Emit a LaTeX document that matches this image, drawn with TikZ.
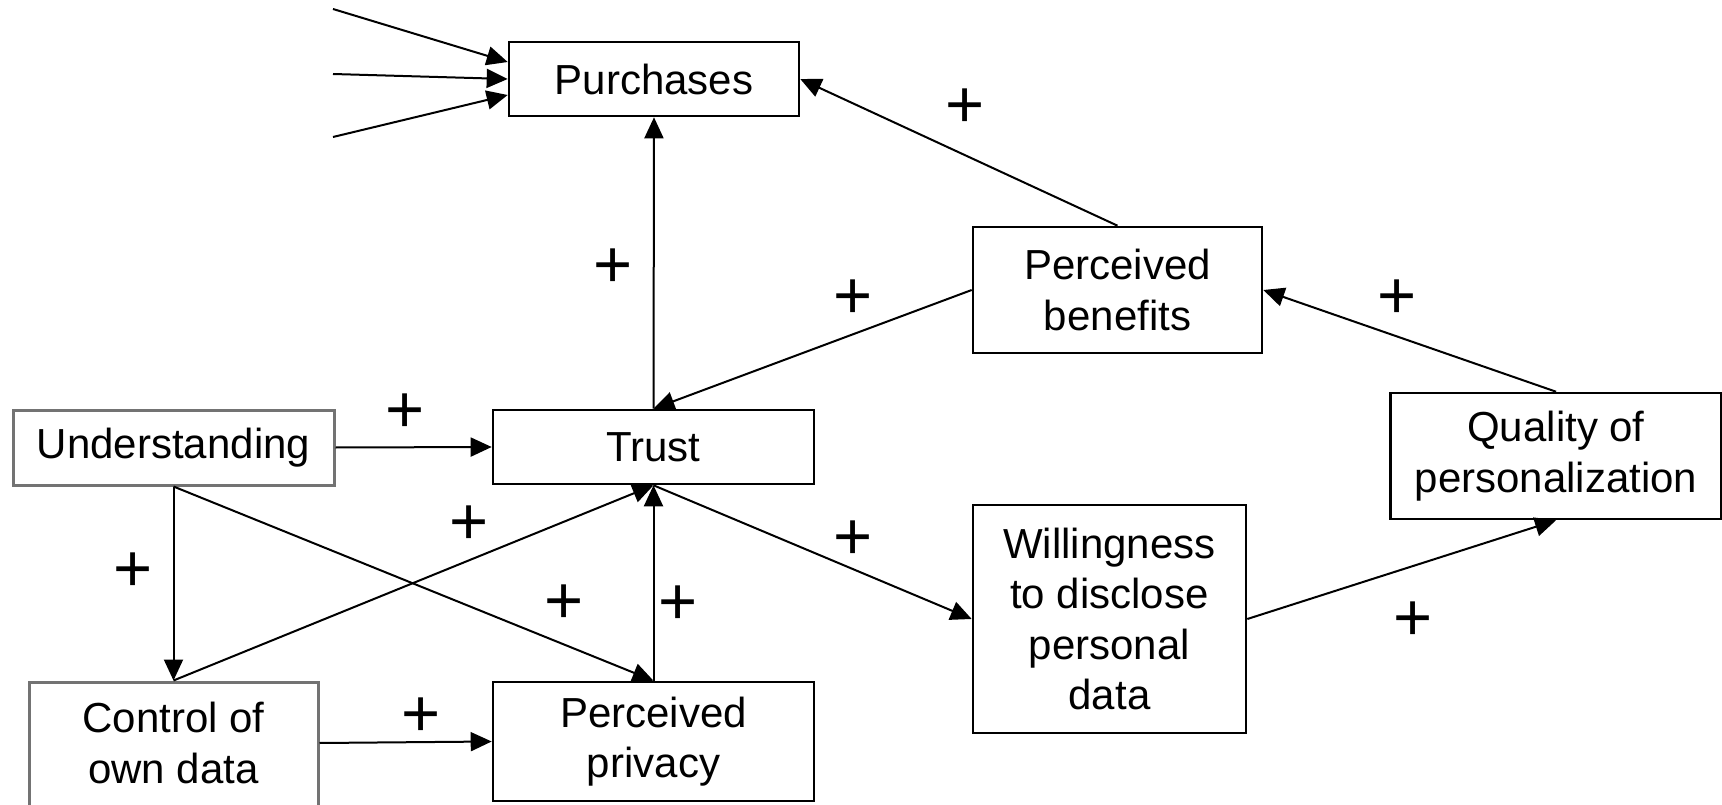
\documentclass[tikz,border=0pt]{standalone}
\usepackage{fontspec}
\setmainfont{Liberation Sans}
\usetikzlibrary{arrows.meta}
\begin{document}
\begin{tikzpicture}[x=1pt,y=-1pt,
  box/.style={draw=black,line width=2.6pt,rectangle,inner sep=0pt,align=center,
    font=\fontsize{42}{50.4}\selectfont},
  graybox/.style={box,draw=black!55,line width=3pt},
  conn/.style={line width=2pt,-{Triangle[length=21pt,width=19pt]}},
  plus/.style={inner sep=0pt,font=\fontsize{67}{67}\selectfont}]
\useasboundingbox (0,0) rectangle (1722,805);
\node[box,minimum width=290pt,minimum height=74pt] (pur) at (654,79) {Purchases};
\node[box,minimum width=289pt,minimum height=126pt] (ben) at (1117.5,290) {Perceived\\benefits};
\node[box,minimum width=331pt,minimum height=126pt] (qual) at (1556,456) {Quality of\\personalization};
\node[graybox,minimum width=321pt,minimum height=75pt] (und) at (173.5,447.5) {Understanding};
\node[box,minimum width=321pt,minimum height=74pt] (trust) at (653.5,447) {Trust};
\node[graybox,minimum width=289pt,minimum height=134pt] (ctrl) at (173.5,749) {};
\node[font=\fontsize{42}{50.4}\selectfont,align=center] (ctrltxt) at (173.5,743) {Control of\\own data};
\node[box,minimum width=321pt,minimum height=119pt] (priv) at (653.5,741.5) {Perceived\\privacy};
\node[box,minimum width=273pt,minimum height=228pt] (will) at (1109.5,619) {Willingness\\to disclose\\personal\\data};

\coordinate (f1) at (333,9);
\coordinate (f2) at (333,74);
\coordinate (f3) at (333,137);
\draw[conn] (f1) -- ([yshift=17pt]pur.west);
\draw[conn] (f2) -- (pur.west);
\draw[conn] (f3) -- ([yshift=-16pt]pur.west);

\draw[conn] (trust.north) -- (pur.south);
\draw[conn] (ben.north) -- (pur.east);
\draw[conn] (ben.west) -- (trust.north);
\draw[conn] (qual.north) -- (ben.east);
\draw[conn] (und.east) -- (trust.west);
\draw[conn] (und.south) -- (ctrl.north);
\draw[conn] (und.south) -- (priv.north);
\draw[conn] (ctrl.north) -- (trust.south);
\draw[conn] (priv.north) -- (trust.south);
\draw[conn] ([yshift=6pt]ctrl.east) -- (priv.west);
\draw[conn] (trust.south) -- (will.west);
\draw[conn] (will.east) -- (qual.south);

\node[plus] (p1) at (965,108) {+};
\node[plus] (p2) at (613,268) {+};
\node[plus] (p3) at (853,299) {+};
\node[plus] (p4) at (1397,299) {+};
\node[plus] (p5) at (405,413) {+};
\node[plus] (p6) at (469,525) {+};
\node[plus] (p7) at (133,572) {+};
\node[plus] (p8) at (564,604) {+};
\node[plus] (p9) at (678,605) {+};
\node[plus] (p10) at (853,540) {+};
\node[plus] (p11) at (1413,621) {+};
\node[plus] (p12) at (421,717) {+};
\end{tikzpicture}
\end{document}
